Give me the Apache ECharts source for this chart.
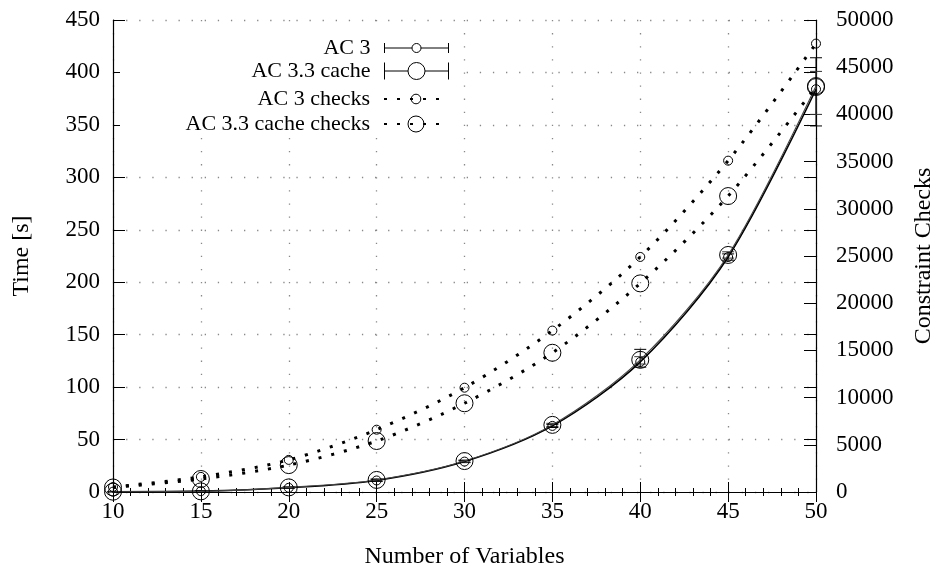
<!DOCTYPE html>
<html>
<head>
<meta charset="utf-8">
<script src="https://cdn.jsdelivr.net/npm/echarts@6/dist/echarts.min.js"></script>
<style>
  html, body { margin: 0; padding: 0; background: #fff; }
  #main { width: 946px; height: 577px; }
</style>
</head>
<body>
<div id="main"></div>
<script>
// number of variables (x)
var varCounts = [10, 15, 20, 25, 30, 35, 40, 45, 50];
// time in seconds (left axis)
var ac3Time = [0.3, 0.8, 4.0, 11.0, 29.0, 63.0, 124, 224, 384];
var cacheTime = [0.3, 0.6, 4.4, 11.5, 29.5, 64.0, 126, 226, 387];
// error ranges of the time series
var ac3Low = [0.1, 0.5, 3.5, 10.0, 28.0, 61.5, 119, 221, 349];
var ac3High = [0.5, 1.2, 4.6, 12.0, 30.0, 64.5, 136, 227, 414];
var cacheLow = [0.1, 0.4, 3.8, 10.5, 28.5, 62.5, 122, 223, 360];
var cacheHigh = [0.5, 0.9, 5.0, 12.5, 30.5, 65.5, 129, 229, 401];
// constraint checks (right axis)
var ac3Checks = [530, 1600, 3400, 6600, 11050, 17100, 24900, 35100, 47500];
var cacheChecks = [480, 1380, 2850, 5400, 9400, 14750, 22100, 31350, 42900];

var names = ['AC 3', 'AC 3.3 cache', 'AC 3 checks', 'AC 3.3 cache checks'];

function pairs(ys) {
  return varCounts.map(function (x, i) { return [x, ys[i]]; });
}
function ranges(lo, hi) {
  return varCounts.map(function (x, i) { return [x, lo[i], hi[i]]; });
}

var font = '"Liberation Serif", "DejaVu Serif", serif';

function errorBars(name, lo, hi, color) {
  return {
    name: name + ' err',
    type: 'custom',
    yAxisIndex: 0,
    z: 3,
    data: ranges(lo, hi),
    encode: { x: 0, y: [1, 2] },
    renderItem: function (params, api) {
      var x = api.value(0);
      var lowPt = api.coord([x, api.value(1)]);
      var highPt = api.coord([x, api.value(2)]);
      var w = 6;
      var st = { stroke: color, lineWidth: 1, fill: null };
      return {
        type: 'group',
        children: [
          { type: 'line', shape: { x1: highPt[0], y1: highPt[1], x2: lowPt[0], y2: lowPt[1] }, style: st },
          { type: 'line', shape: { x1: highPt[0] - w, y1: highPt[1], x2: highPt[0] + w, y2: highPt[1] }, style: st },
          { type: 'line', shape: { x1: lowPt[0] - w, y1: lowPt[1], x2: lowPt[0] + w, y2: lowPt[1] }, style: st }
        ]
      };
    }
  };
}

// error bar style legend icons: |--o--|
function barIcon(w, h, r) {
  var m = h / 2, c = w / 2;
  return 'path://M0,0 L0,' + h + ' M0,' + m + ' L' + (c - r) + ',' + m +
    ' M' + (c + r) + ',' + m + ' L' + w + ',' + m +
    ' M' + w + ',0 L' + w + ',' + h +
    ' M' + (c - r) + ',' + m + ' A' + r + ',' + r + ' 0 1,1 ' + (c + r) + ',' + m +
    ' A' + r + ',' + r + ' 0 1,1 ' + (c - r) + ',' + m + ' Z';
}

var legendRows = [
  { name: names[0], top: 37, itemHeight: 10, icon: barIcon(64, 10, 4.5) },
  { name: names[1], top: 60, itemHeight: 17, icon: barIcon(64, 17, 8.5) },
  { name: names[2], top: 88, itemHeight: 12 },
  { name: names[3], top: 113, itemHeight: 20 }
];

var chartDom = document.getElementById('main');
var myChart = echarts.init(chartDom, null, { renderer: 'canvas' });
var option;

option = {
  backgroundColor: '#fff',
  animation: false,
  textStyle: { fontFamily: font, color: '#000' },
  grid: { left: 113, right: 130, top: 20, bottom: 85 },
  legend: legendRows.map(function (r) {
    var item = { name: r.name };
    if (r.icon) item.icon = r.icon;
    return {
      data: [item],
      orient: 'vertical',
      align: 'right',
      right: 497,
      top: r.top,
      padding: 0,
      itemWidth: 64,
      itemHeight: r.itemHeight,
      selectedMode: false,
      itemStyle: { borderWidth: 1, borderColor: '#000' },
      textStyle: { fontFamily: font, fontSize: 22, color: '#000', padding: [0, 9, 0, 0] }
    };
  }),
  graphic: [{
    type: 'rect',
    left: 120, top: 30, z: 3,
    shape: { width: 335, height: 108 },
    style: { fill: '#fff' }
  }],
  xAxis: [{
    type: 'value',
    min: 10, max: 50, interval: 5,
    name: 'Number of Variables',
    nameLocation: 'middle',
    nameGap: 53,
    nameTextStyle: { fontFamily: font, fontSize: 24, color: '#000' },
    axisLine: { lineStyle: { color: '#000', width: 1.2 } },
    axisTick: { inside: true, length: 10, lineStyle: { color: '#000' } },
    minorTick: { show: true, splitNumber: 5, length: 4, lineStyle: { color: '#000' } },
    axisLabel: { fontFamily: font, fontSize: 23, color: '#000', margin: 8 },
    splitLine: { show: true, lineStyle: { color: '#888', width: 1.3, type: [1.3, 11.8] } }
  }, {
    type: 'value',
    position: 'top',
    min: 10, max: 50, interval: 5,
    axisLine: { lineStyle: { color: '#000', width: 1.2 } },
    axisTick: { inside: true, length: 10, lineStyle: { color: '#000' } },
    minorTick: { show: true, splitNumber: 5, length: 4, lineStyle: { color: '#000' } },
    axisLabel: { show: false },
    splitLine: { show: false }
  }],
  yAxis: [{
    type: 'value',
    position: 'left',
    min: 0, max: 450, interval: 50,
    name: 'Time [s]',
    nameLocation: 'middle',
    nameGap: 79,
    nameTextStyle: { fontFamily: font, fontSize: 24, color: '#000' },
    axisLine: { show: true, lineStyle: { color: '#000', width: 1.2 } },
    axisTick: { show: true, inside: true, length: 12, lineStyle: { color: '#000' } },
    axisLabel: { fontFamily: font, fontSize: 23, color: '#000', margin: 13 },
    splitLine: { show: true, lineStyle: { color: '#888', width: 1.3, type: [1.3, 11.8] } }
  }, {
    type: 'value',
    position: 'right',
    min: 0, max: 50000, interval: 5000,
    name: 'Constraint Checks',
    nameLocation: 'middle',
    nameGap: 96,
    nameTextStyle: { fontFamily: font, fontSize: 24, color: '#000' },
    axisLine: { show: true, lineStyle: { color: '#000', width: 1.2 } },
    axisTick: { show: true, inside: true, length: 12, lineStyle: { color: '#000' } },
    axisLabel: {
      fontFamily: font, fontSize: 23, color: '#000', margin: 20,
      formatter: function (v) { return String(v); }
    },
    splitLine: { show: false }
  }, {
    // mirror of the left axis ticks on the right edge
    type: 'value',
    position: 'right',
    min: 0, max: 450, interval: 50,
    axisLine: { show: false },
    axisTick: { show: true, inside: true, length: 12, lineStyle: { color: '#000' } },
    axisLabel: { show: false },
    splitLine: { show: false }
  }],
  series: [
    {
      name: names[0],
      type: 'line',
      yAxisIndex: 0,
      smooth: 0.3,
      data: pairs(ac3Time),
      symbol: 'circle',
      symbolSize: 9,
      lineStyle: { color: '#000', width: 1.6 },
      itemStyle: { color: 'rgba(0,0,0,0)', borderColor: '#000', borderWidth: 1 },
      z: 4
    },
    {
      name: names[1],
      type: 'line',
      yAxisIndex: 0,
      smooth: 0.3,
      data: pairs(cacheTime),
      symbol: 'circle',
      symbolSize: 17,
      lineStyle: { color: '#444', width: 1.1 },
      itemStyle: { color: 'rgba(0,0,0,0)', borderColor: '#000', borderWidth: 1 },
      z: 4
    },
    {
      name: names[2],
      type: 'line',
      yAxisIndex: 1,
      smooth: 0.3,
      data: pairs(ac3Checks),
      symbol: 'circle',
      symbolSize: 9,
      lineStyle: { color: '#000', width: 3, type: [3, 10] },
      itemStyle: { color: 'rgba(0,0,0,0)', borderColor: '#000', borderWidth: 1 },
      z: 4
    },
    {
      name: names[3],
      type: 'line',
      yAxisIndex: 1,
      smooth: 0.3,
      data: pairs(cacheChecks),
      symbol: 'circle',
      symbolSize: 17,
      lineStyle: { color: '#000', width: 3, type: [3, 10] },
      itemStyle: { color: 'rgba(0,0,0,0)', borderColor: '#000', borderWidth: 1 },
      z: 4
    },
    errorBars(names[0], ac3Low, ac3High, '#000'),
    errorBars(names[1], cacheLow, cacheHigh, '#333')
  ]
};

option && myChart.setOption(option);
</script>
</body>
</html>
